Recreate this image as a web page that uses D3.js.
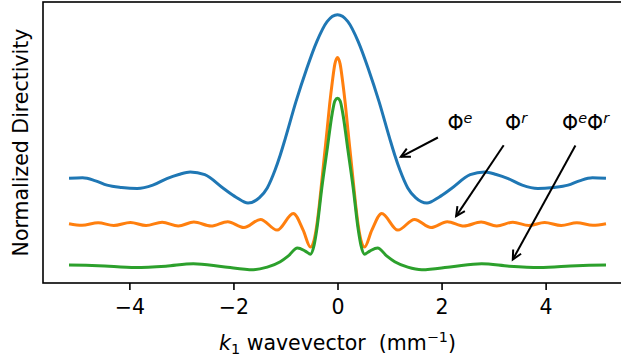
<!DOCTYPE html>
<html>
<head>
<meta charset="utf-8">
<script src="https://cdn.jsdelivr.net/npm/d3@7"></script>
<style>
  html, body { margin: 0; padding: 0; background: #fff; }
  svg { display: block; }
  text { font-family: "DejaVu Sans", sans-serif; fill: #000; }
</style>
</head>
<body>
<script>
// Directivity curves versus k1 (mm^-1); each curve carries its own vertical offset.
const kBlue = [-5.16, -4.90, -4.65, -4.43, -4.15, -3.85, -3.55, -3.28, -3.05, -2.83, -2.55, -2.19, -1.95, -1.72, -1.50, -1.35, -1.20, -1.10, -1.00, -0.80, -0.60, -0.40, -0.20, 0,
               0.20, 0.40, 0.60, 0.80, 1.00, 1.10, 1.20, 1.35, 1.50, 1.72, 1.95, 2.19, 2.55, 2.83, 3.05, 3.28, 3.55, 3.85, 4.15, 4.43, 4.65, 4.90, 5.16];
const phiE  = [0.360, 0.362, 0.350, 0.333, 0.324, 0.320, 0.333, 0.359, 0.375, 0.385, 0.374, 0.320, 0.286, 0.263, 0.284, 0.322, 0.392, 0.451, 0.518, 0.659, 0.784, 0.894, 0.973, 1.000,
               0.973, 0.894, 0.784, 0.659, 0.518, 0.451, 0.392, 0.322, 0.284, 0.263, 0.286, 0.320, 0.374, 0.385, 0.375, 0.359, 0.333, 0.320, 0.324, 0.333, 0.350, 0.362, 0.360];

const kOrange = [-5.16, -4.91, -4.60, -4.30, -3.98, -3.68, -3.37, -3.06, -2.76, -2.43, -2.11, -1.80, -1.48, -1.16, -0.85, -0.66, -0.52, -0.45, -0.40, -0.35, -0.30, -0.25, -0.20, -0.15, -0.10, -0.05, 0,
                 0.05, 0.10, 0.15, 0.20, 0.25, 0.30, 0.35, 0.40, 0.45, 0.52, 0.66, 0.85, 1.16, 1.48, 1.80, 2.11, 2.43, 2.76, 3.06, 3.37, 3.68, 3.98, 4.30, 4.60, 4.91, 5.16];
const phiR    = [0.182, 0.176, 0.186, 0.175, 0.187, 0.175, 0.188, 0.173, 0.189, 0.173, 0.190, 0.167, 0.199, 0.157, 0.222, 0.157, 0.091, 0.118, 0.173, 0.255, 0.353, 0.451, 0.549, 0.651, 0.737, 0.808, 0.833,
                 0.808, 0.737, 0.651, 0.549, 0.451, 0.353, 0.255, 0.173, 0.118, 0.091, 0.157, 0.222, 0.157, 0.199, 0.167, 0.190, 0.173, 0.189, 0.173, 0.188, 0.175, 0.187, 0.175, 0.186, 0.176, 0.182];

const kGreen = [-5.16, -4.60, -3.88, -3.30, -2.77, -2.20, -1.62, -1.35, -1.10, -0.95, -0.77, -0.62, -0.52, -0.45, -0.40, -0.30, -0.20, -0.10, -0.05, 0,
                0.05, 0.10, 0.20, 0.30, 0.40, 0.45, 0.52, 0.62, 0.77, 0.95, 1.10, 1.35, 1.62, 2.20, 2.77, 3.30, 3.88, 4.60, 5.16];
const phiEphiR = [0.020, 0.018, 0.011, 0.016, 0.025, 0.014, 0.002, 0.012, 0.033, 0.055, 0.087, 0.075, 0.063, 0.098, 0.157, 0.325, 0.471, 0.616, 0.663, 0.673,
                  0.663, 0.616, 0.471, 0.325, 0.157, 0.098, 0.063, 0.075, 0.087, 0.055, 0.033, 0.012, 0.002, 0.014, 0.025, 0.016, 0.011, 0.018, 0.020];

const seriesColors = ["#1f77b4", "#ff7f0e", "#2ca02c"];

const xTicks = [-4, -2, 0, 2, 4];

// Curve annotations: label, text anchor and arrow tip in data units
const annLabels = ["Φ^e", "Φ^r", "Φ^eΦ^r"];
const annTextK  = [2.113, 3.221, 4.316];
const annTextV  = [0.549, 0.549, 0.549];
const annTipK   = [1.218, 2.280, 3.369];
const annTipV   = [0.444, 0.212, 0.042];

const W = 621, H = 364;
const FS = 20.5, FS_SMALL = 14.4;

const svg = d3.select("body").append("svg").attr("width", W).attr("height", H);

const x = d3.scaleLinear().domain([-5.66, 5.66]).range([43, 632]);
const y = d3.scaleLinear().domain([-0.05, 1.05]).range([283, 2]);

const [x0, x1] = x.range();
const [yB, yT] = y.range();

// curves
const series = [[kBlue, phiE], [kOrange, phiR], [kGreen, phiEphiR]];
const line = d3.line().x(d => x(d[0])).y(d => y(d[1])).curve(d3.curveMonotoneX);
series.forEach(([ks, vs], i) => {
  svg.append("path")
    .datum(ks.map((k, j) => [k, vs[j]]))
    .attr("d", line)
    .attr("fill", "none")
    .attr("stroke", seriesColors[i])
    .attr("stroke-width", 3)
    .attr("stroke-linejoin", "round");
});

// x axis
const xAxis = d3.axisBottom(x)
  .tickValues(xTicks)
  .tickSize(7)
  .tickPadding(9)
  .tickFormat(d => (d < 0 ? "\u2212" + Math.abs(d) : String(d)));
const gx = svg.append("g").attr("transform", `translate(0,${yB})`).call(xAxis);
gx.select(".domain").remove();
gx.selectAll(".tick line").attr("stroke", "#000").attr("stroke-width", 1.6);
gx.selectAll(".tick text")
  .attr("font-family", "DejaVu Sans")
  .attr("font-size", FS)
  .attr("fill", "#000");

// spines
const spines = svg.append("g").attr("stroke", "#000").attr("stroke-width", 1.6).attr("fill", "none");
spines.append("rect").attr("x", x0).attr("y", yT).attr("width", x1 - x0).attr("height", yB - yT);

// axis titles
const xl = svg.append("text")
  .attr("x", (x0 + x1) / 2).attr("y", 350)
  .attr("text-anchor", "middle")
  .attr("font-size", FS)
  .style("white-space", "pre");
xl.append("tspan").attr("font-style", "italic").text("k");
xl.append("tspan").attr("font-size", FS_SMALL).attr("dy", 4).text("1");
xl.append("tspan").attr("dy", -4).text(" wavevector  (mm");
xl.append("tspan").attr("font-size", FS_SMALL).attr("dy", -8).text("\u22121");
xl.append("tspan").attr("dy", 8).text(")");

svg.append("text")
  .attr("transform", `translate(27.5,${(yT + yB) / 2}) rotate(-90)`)
  .attr("text-anchor", "middle")
  .attr("font-size", FS)
  .text("Normalized Directivity");

// annotations
annLabels.forEach((lab, i) => {
  const tx = x(annTextK[i]), ty = y(annTextV[i]);
  const t = svg.append("text").attr("x", tx).attr("y", ty).attr("font-size", FS);
  let shift = 0;
  const parts = lab.match(/\^?[^\^]/g);
  parts.forEach(p => {
    const sup = p[0] === "^";
    const target = sup ? -7 : 0;
    const ts = t.append("tspan").attr("dy", target - shift).text(sup ? p.slice(1) : p);
    if (sup) ts.attr("font-size", FS_SMALL).attr("font-style", "italic");
    shift = target;
  });

  // arrow tail: leave the padded text box along the line toward the tip
  const bb = t.node().getBBox();
  const box = { l: bb.x - 6, r: bb.x + bb.width + 6, t: bb.y, b: ty + 12 };
  const cx = (box.l + box.r) / 2, cy = (box.t + box.b) / 2;
  const px = x(annTipK[i]), py = y(annTipV[i]);
  const dx = px - cx, dy = py - cy;
  const tHit = Math.min(
    dx !== 0 ? Math.abs((dx < 0 ? box.l - cx : box.r - cx) / dx) : Infinity,
    dy !== 0 ? Math.abs((dy < 0 ? box.t - cy : box.b - cy) / dy) : Infinity
  );
  const len = Math.hypot(dx, dy);
  const ux = dx / len, uy = dy / len;
  const sx = cx + dx * tHit + ux * 4, sy = cy + dy * tHit + uy * 4;

  const g = svg.append("g").attr("stroke", "#000").attr("stroke-width", 2).attr("fill", "none")
    .attr("stroke-linecap", "butt").attr("stroke-linejoin", "miter");
  g.append("line").attr("x1", sx).attr("y1", sy).attr("x2", px).attr("y2", py);
  const hl = 9, hw = 4.5;
  const bx = px - ux * hl, by = py - uy * hl;
  g.append("path").attr("d",
    `M${bx - uy * hw},${by + ux * hw}L${px},${py}L${bx + uy * hw},${by - ux * hw}`);
});
</script>
</body>
</html>
